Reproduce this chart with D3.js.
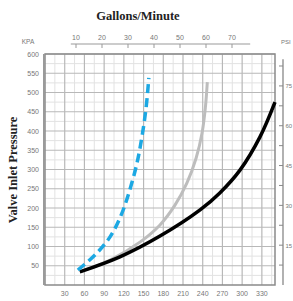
<!DOCTYPE html>
<html>
<head>
<meta charset="utf-8">
<script src="https://cdn.jsdelivr.net/npm/d3@7"></script>
<style>
  body { margin: 0; background: #fff; }
  svg text { font-family: "Liberation Sans", Arial, sans-serif; }
  svg text.title { font-family: "Liberation Serif", "Times New Roman", serif; font-weight: bold; }
</style>
</head>
<body>
<div id="chart"></div>
<script>
// flow in litres/minute (bottom), pressure in kPa (left)
const lpmTicks = [30, 60, 90, 120, 150, 180, 210, 240, 270, 300, 330];
const kpaTicks = [50, 100, 150, 200, 250, 300, 350, 400, 450, 500, 550, 600];
const gpmTicks = [10, 20, 30, 40, 50, 60, 70];
const psiLabels = [15, 30, 45, 60, 75];
const psiMinor = [7.5, 22.5, 37.5, 52.5, 67.5, 82.5];

// curves: [lpm, kPa]
const blueSeries = [[50, 39], [76, 78], [99, 125], [116, 182], [129, 247], [140, 317], [148, 390], [154, 463], [158, 538]];
const graySeries = [[53, 34], [99, 65], [145, 112], [175, 156], [198, 208], [216, 265], [230, 330], [239, 395], [244, 460], [247, 527]];
const blackSeries = [[53, 34], [114, 73], [175, 127], [236, 195], [266, 239], [297, 299], [327, 384], [350, 475]];

const W = 293, H = 301;
const svg = d3.select("#chart").append("svg").attr("width", W).attr("height", H);

const x = d3.scaleLinear().domain([0, 350]).range([45, 275]);
const y = d3.scaleLinear().domain([0, 600]).range([285, 54]);
const xg = d3.scaleLinear().domain([0, 80]).range([50, 258]);
const yp = d3.scaleLinear().domain([0, 600 / 6.895]).range([285, 54]);

// grid
const grid = svg.append("g");
const minorX = d3.range(15, 350, 30);
const minorY = d3.range(25, 600, 50);
grid.selectAll(".mx").data(minorX).enter().append("line")
  .attr("x1", d => x(d)).attr("x2", d => x(d)).attr("y1", y(600)).attr("y2", y(0))
  .attr("stroke", "#e2e2e2").attr("stroke-width", 1);
grid.selectAll(".my").data(minorY).enter().append("line")
  .attr("y1", d => y(d)).attr("y2", d => y(d)).attr("x1", x(0)).attr("x2", x(350))
  .attr("stroke", "#e2e2e2").attr("stroke-width", 1);
grid.selectAll(".gx").data(lpmTicks).enter().append("line")
  .attr("x1", d => x(d)).attr("x2", d => x(d)).attr("y1", y(600)).attr("y2", y(0))
  .attr("stroke", "#b8b8b8").attr("stroke-width", 1.2);
grid.selectAll(".gy").data(kpaTicks).enter().append("line")
  .attr("y1", d => y(d)).attr("y2", d => y(d)).attr("x1", x(0)).attr("x2", x(350))
  .attr("stroke", "#b8b8b8").attr("stroke-width", 1.2);

// frame
svg.append("rect").attr("x", x(0)).attr("y", y(600))
  .attr("width", x(350) - x(0)).attr("height", y(0) - y(600))
  .attr("fill", "none").attr("stroke", "#8a8a8a").attr("stroke-width", 1.5);
svg.append("line").attr("x1", x(0) - 1).attr("x2", x(0) - 1).attr("y1", y(600)).attr("y2", y(0))
  .attr("stroke", "#9a9a9a").attr("stroke-width", 2);

// left labels
svg.append("g").selectAll("text").data(kpaTicks).enter().append("text")
  .attr("x", 39).attr("y", d => y(d) + 2.5).attr("text-anchor", "end")
  .attr("font-size", 7).attr("fill", "#777").text(d => d);
svg.append("text").attr("x", 28).attr("y", 44).attr("text-anchor", "middle")
  .attr("font-size", 6.5).attr("fill", "#777").text("KPA");

// bottom labels
svg.append("g").selectAll("text").data(lpmTicks).enter().append("text")
  .attr("x", d => x(d)).attr("y", 296).attr("text-anchor", "middle")
  .attr("font-size", 7).attr("fill", "#777").text(d => d);

// top gallons axis
const gpmAxis = svg.append("g");
gpmAxis.append("line").attr("x1", xg(8)).attr("x2", xg(77)).attr("y1", 44).attr("y2", 44)
  .attr("stroke", "#999").attr("stroke-width", 1);
gpmAxis.selectAll("line.t").data(gpmTicks).enter().append("line")
  .attr("x1", d => xg(d)).attr("x2", d => xg(d)).attr("y1", 44).attr("y2", 48)
  .attr("stroke", "#999");
gpmAxis.selectAll("text").data(gpmTicks).enter().append("text")
  .attr("x", d => xg(d)).attr("y", 40).attr("text-anchor", "middle")
  .attr("font-size", 7).attr("fill", "#777").text(d => d);
svg.append("text").attr("class", "title").attr("x", 138).attr("y", 20).attr("text-anchor", "middle")
  .attr("font-size", 12.5).attr("fill", "#222").text("Gallons/Minute");

// right psi axis
const ax = 283;
svg.append("line").attr("x1", ax).attr("x2", ax).attr("y1", yp(85)).attr("y2", y(0))
  .attr("stroke", "#888").attr("stroke-width", 1.3);
svg.selectAll("line.pm").data(psiMinor.concat(psiLabels)).enter().append("line")
  .attr("x1", ax - 4).attr("x2", ax).attr("y1", d => yp(d)).attr("y2", d => yp(d))
  .attr("stroke", "#888");
svg.append("g").selectAll("text").data(psiLabels).enter().append("text")
  .attr("x", ax + 2.5).attr("y", d => yp(d) + 2.5)
  .attr("font-size", 6).attr("fill", "#777").text(d => d);
svg.append("text").attr("x", 281).attr("y", 44)
  .attr("font-size", 6).attr("fill", "#777").text("PSI");

// y title
svg.append("text").attr("class", "title").attr("transform", "translate(17,170) rotate(-90)")
  .attr("text-anchor", "middle")
  .attr("font-size", 12.5).attr("fill", "#222").text("Valve Inlet Pressure");

// curves
const line = d3.line().x(d => x(d[0])).y(d => y(d[1])).curve(d3.curveCatmullRom);
svg.append("path").datum(graySeries).attr("d", line)
  .attr("fill", "none").attr("stroke", "#bdbdbd").attr("stroke-width", 3);
svg.append("path").datum(blackSeries).attr("d", line)
  .attr("fill", "none").attr("stroke", "#000").attr("stroke-width", 3.5);
svg.append("path").datum(blueSeries).attr("d", line)
  .attr("fill", "none").attr("stroke", "#1ca8e3").attr("stroke-width", 3.5)
  .attr("stroke-dasharray", "9,5");
</script>
</body>
</html>
